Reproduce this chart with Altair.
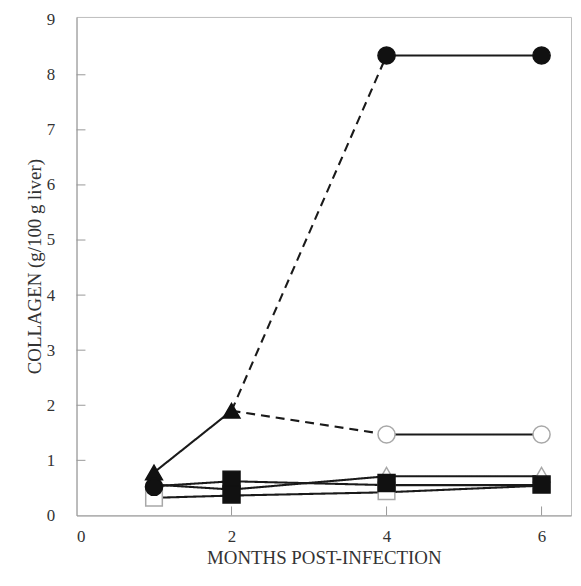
import altair as alt
import pandas as pd

# ---------------- data ----------------
x_tick_values = [0, 2, 4, 6]
y_tick_values = [0, 1, 2, 3, 4, 5, 6, 7, 8, 9]
x_inner_ticks = [2, 4, 6]
y_inner_ticks = [1, 2, 3, 4, 5, 6, 7, 8]

# connecting lines
rise_x = [1, 2]
rise_y = [0.78, 1.90]
dash_high_x = [2, 4]
dash_high_y = [1.90, 8.35]
dash_low_x = [2, 4]
dash_low_y = [1.90, 1.47]
high_x = [4, 6]
high_y = [8.35, 8.35]
low_x = [4, 6]
low_y = [1.47, 1.47]
months = [1, 2, 4, 6]
ctrl_a_y = [0.53, 0.62, 0.55, 0.55]
ctrl_b_y = [0.56, 0.47, 0.71, 0.71]
ctrl_c_y = [0.32, 0.36, 0.42, 0.54]

# markers
open_sq_x = [1, 4]
open_sq_y = [0.32, 0.44]
open_tri_x = [4, 6]
open_tri_y = [0.74, 0.74]
filled_tri_x = [1, 2]
filled_tri_y = [0.78, 1.90]
filled_sq_x = [2, 2, 4, 6]
filled_sq_y = [0.65, 0.38, 0.59, 0.56]
open_circ_x = [4, 6]
open_circ_y = [1.47, 1.47]
filled_circ_x = [1, 4, 6]
filled_circ_y = [0.52, 8.35, 8.35]

# ---------------- tables ----------------
line_rows = []
def add_line(name, xs, ys, dashed):
    for xv, yv in zip(xs, ys):
        line_rows.append({"month": xv, "value": yv, "series": name,
                          "style": "dashed" if dashed else "solid"})

add_line("rise", rise_x, rise_y, False)
add_line("dash_high", dash_high_x, dash_high_y, True)
add_line("dash_low", dash_low_x, dash_low_y, True)
add_line("high", high_x, high_y, False)
add_line("low", low_x, low_y, False)
add_line("ctrl_a", months, ctrl_a_y, False)
add_line("ctrl_b", months, ctrl_b_y, False)
add_line("ctrl_c", months, ctrl_c_y, False)
lines_df = pd.DataFrame(line_rows)

marker_rows = []
order = 0
for kind, xs, ys in [
    ("open_sq", open_sq_x, open_sq_y),
    ("open_tri", open_tri_x, open_tri_y),
    ("filled_tri", filled_tri_x, filled_tri_y),
    ("filled_sq", filled_sq_x, filled_sq_y),
    ("open_circ", open_circ_x, open_circ_y),
    ("filled_circ", filled_circ_x, filled_circ_y),
]:
    for xv, yv in zip(xs, ys):
        marker_rows.append({"month": xv, "value": yv, "kind": kind, "order": order})
        order += 1
markers_df = pd.DataFrame(marker_rows)

kinds = ["open_sq", "open_tri", "filled_tri", "filled_sq", "open_circ", "filled_circ"]
shapes = ["square", "triangle-up", "triangle-up", "square", "circle", "circle"]
fills = ["white", "white", "#111111", "#111111", "white", "#111111"]
strokes = ["#a8a8a8", "#a8a8a8", "#111111", "#111111", "#a8a8a8", "#111111"]
sizes = [160, 180, 180, 130, 160, 140]
halo_sizes = [280, 300, 300, 240, 280, 260]

FONT = "Liberation Serif"
W, H = 498, 502

x_scale = alt.Scale(domain=[0, 6.38], nice=False, zero=False)
y_scale = alt.Scale(domain=[0, 9.05], nice=False)

x_axis = alt.Axis(values=x_tick_values, ticks=False, grid=False, labelPadding=13,
                  title="MONTHS POST-INFECTION", titlePadding=4, format="d")
y_axis = alt.Axis(values=y_tick_values, ticks=False, grid=False, labelPadding=22,
                  title="COLLAGEN (g/100 g liver)", titlePadding=2, format="d")

lines = alt.Chart(lines_df).mark_line(color="#1a1a1a", strokeWidth=2.1).encode(
    x=alt.X("month:Q", scale=x_scale, axis=x_axis),
    y=alt.Y("value:Q", scale=y_scale, axis=y_axis),
    detail="series:N",
    strokeDash=alt.StrokeDash("style:N", scale=alt.Scale(domain=["solid", "dashed"],
                                                         range=[[1, 0], [9, 6]]), legend=None),
)

halo = alt.Chart(markers_df).mark_point(filled=True, opacity=1).encode(
    x=alt.X("month:Q", scale=x_scale, axis=x_axis),
    y=alt.Y("value:Q", scale=y_scale, axis=y_axis),
    shape=alt.Shape("kind:N", scale=alt.Scale(domain=kinds, range=shapes), legend=None),
    size=alt.Size("kind:N", scale=alt.Scale(domain=kinds, range=halo_sizes), legend=None),
    color=alt.value("white"),
    order=alt.Order("order:Q"),
)

points = alt.Chart(markers_df).mark_point(strokeWidth=1.5, opacity=1, fillOpacity=1).encode(
    x=alt.X("month:Q", scale=x_scale, axis=x_axis),
    y=alt.Y("value:Q", scale=y_scale, axis=y_axis),
    shape=alt.Shape("kind:N", scale=alt.Scale(domain=kinds, range=shapes), legend=None),
    size=alt.Size("kind:N", scale=alt.Scale(domain=kinds, range=sizes), legend=None),
    fill=alt.Fill("kind:N", scale=alt.Scale(domain=kinds, range=fills), legend=None),
    stroke=alt.Stroke("kind:N", scale=alt.Scale(domain=kinds, range=strokes), legend=None),
    order=alt.Order("order:Q"),
)

yticks = alt.Chart(pd.DataFrame({"v": y_inner_ticks})).mark_rule(
    color="#999999", strokeWidth=1).encode(
    y=alt.Y("v:Q", scale=y_scale, axis=y_axis),
    x=alt.value(0), x2=alt.value(9),
)
xticks = alt.Chart(pd.DataFrame({"v": x_inner_ticks})).mark_rule(
    color="#999999", strokeWidth=1).encode(
    x=alt.X("v:Q", scale=x_scale, axis=x_axis),
    y=alt.value(H), y2=alt.value(H - 9),
)

chart = alt.layer(yticks, xticks, lines, halo, points).properties(
    width=W, height=H,
    autosize=alt.AutoSizeParams(type="none"),
    padding={"left": 69, "top": 7, "right": 2, "bottom": 58},
    background="white",
).configure_view(
    stroke="#bdbdbd", strokeWidth=1,
).configure_axis(
    labelFont=FONT, labelFontSize=17, labelColor="#333333",
    titleFont=FONT, titleFontSize=19, titleColor="#333333", titleFontWeight="normal",
    domainColor="#999999", domainWidth=1,
)

chart.save("out.html", embed_options={"renderer": "svg", "actions": False})
